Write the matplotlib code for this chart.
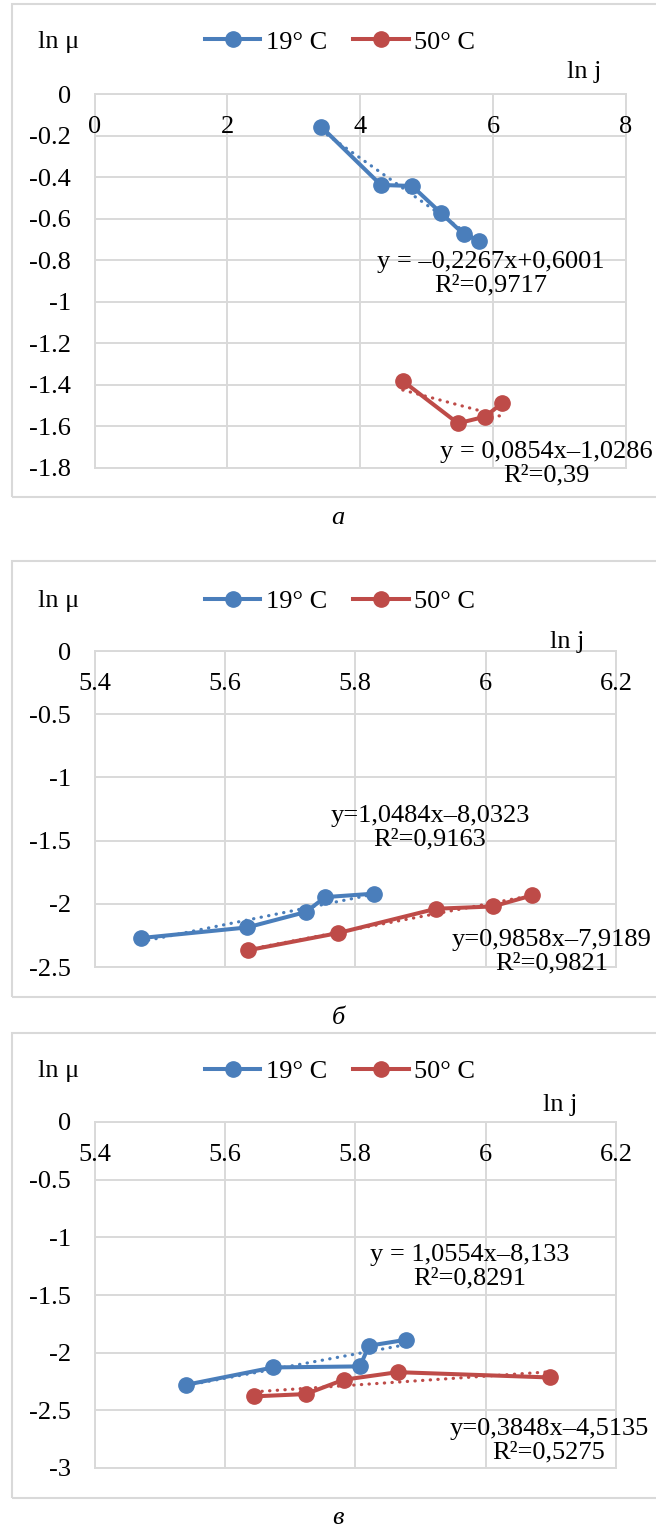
import matplotlib.pyplot as plt
import numpy as np
from matplotlib.patches import Rectangle

plt.rcParams['font.family'] = ['Liberation Serif', 'DejaVu Serif']

# data (ln j, ln mu)
a_blue_x = [3.41, 4.31, 4.78, 5.21, 5.56, 5.79]
a_blue_y = [-0.156, -0.437, -0.442, -0.571, -0.675, -0.706]
a_red_x = [4.64, 5.47, 5.88, 6.14]
a_red_y = [-1.382, -1.586, -1.554, -1.487]

b_blue_x = [5.471, 5.634, 5.724, 5.754, 5.828]
b_blue_y = [-2.271, -2.187, -2.065, -1.947, -1.920]
b_red_x = [5.635, 5.774, 5.924, 6.011, 6.071]
b_red_y = [-2.368, -2.231, -2.039, -2.021, -1.934]

c_blue_x = [5.541, 5.674, 5.807, 5.821, 5.878]
c_blue_y = [-2.278, -2.128, -2.119, -1.940, -1.888]
c_red_x = [5.645, 5.724, 5.782, 5.865, 6.098]
c_red_y = [-2.379, -2.359, -2.235, -2.169, -2.215]

series_names = ['19° C', '50° C']

a_xticks = [0, 2, 4, 6, 8]
a_xlabels = ['0', '2', '4', '6', '8']
a_yticks = [0, -0.2, -0.4, -0.6, -0.8, -1, -1.2, -1.4, -1.6, -1.8]
a_ylabels = ['0', '-0.2', '-0.4', '-0.6', '-0.8', '-1', '-1.2', '-1.4', '-1.6', '-1.8']

bc_xticks = [5.4, 5.6, 5.8, 6.0, 6.2]
bc_xlabels = ['5.4', '5.6', '5.8', '6', '6.2']
b_yticks = [0, -0.5, -1, -1.5, -2, -2.5]
b_ylabels = ['0', '-0.5', '-1', '-1.5', '-2', '-2.5']
c_yticks = [0, -0.5, -1, -1.5, -2, -2.5, -3]
c_ylabels = ['0', '-0.5', '-1', '-1.5', '-2', '-2.5', '-3']

a_fits = ['y = \u20130,2267x+0,6001\nR\u00b2=0,9717', 'y = 0,0854x\u20131,0286\nR\u00b2=0,39']
b_fits = ['y=1,0484x\u20138,0323\nR\u00b2=0,9163', 'y=0,9858x\u20137,9189\nR\u00b2=0,9821']
c_fits = ['y = 1,0554x\u20138,133\nR\u00b2=0,8291', 'y=0,3848x\u20134,5135\nR\u00b2=0,5275']

captions = ['а', 'б', 'в']

W, H = 656, 1526
fig = plt.figure(figsize=(W / 100, H / 100), dpi=100)

BLUE = '#4A7EBB'
RED = '#BE4B48'
GRID = '#D9D9D9'
FS = 19


def fx(x):
    return x / W


def fy(y):
    return 1 - y / H


# layout in pixels: box top/bottom, axes top/bottom/right, label positions
panels = [
    dict(box=(4, 497), ax=(94.3, 467.7, 626), xlim=(0, 8), ylim=(-1.8, 0),
         xt=a_xticks, xl=a_xlabels, yt=a_yticks, yl=a_ylabels,
         blue=(a_blue_x, a_blue_y), red=(a_red_x, a_red_y), fits=a_fits,
         head=42, lnj=(567, 72), fitpos=[(491, 274), (546, 464)], cap=518),
    dict(box=(561, 997), ax=(651, 967, 616), xlim=(5.4, 6.2), ylim=(-2.5, 0),
         xt=bc_xticks, xl=bc_xlabels, yt=b_yticks, yl=b_ylabels,
         blue=(b_blue_x, b_blue_y), red=(b_red_x, b_red_y), fits=b_fits,
         head=601, lnj=(550, 642), fitpos=[(430, 828), (552, 952)], cap=1018),
    dict(box=(1033, 1498), ax=(1122, 1468, 616), xlim=(5.4, 6.2), ylim=(-3, 0),
         xt=bc_xticks, xl=bc_xlabels, yt=c_yticks, yl=c_ylabels,
         blue=(c_blue_x, c_blue_y), red=(c_red_x, c_red_y), fits=c_fits,
         head=1071, lnj=(543, 1105), fitpos=[(470, 1267), (549, 1441)], cap=1518),
]

for p, cap in zip(panels, captions):
    top, bot = p['box']
    fig.patches.append(Rectangle((fx(11.7), fy(bot)), fx(700), (bot - top) / H,
                                 transform=fig.transFigure, fill=False,
                                 ec=GRID, lw=1.5))

    at, ab, ar = p['ax']
    left = 94.6
    ax = fig.add_axes([fx(left), fy(ab), fx(ar - left), (ab - at) / H])
    ax.set_xlim(*p['xlim'])
    ax.set_ylim(*p['ylim'])
    ax.set_xticks(p['xt'])
    ax.set_yticks(p['yt'])
    ax.set_yticklabels(p['yl'], fontsize=FS)
    ax.tick_params(length=0, pad=17, labelbottom=False)
    ax.grid(color=GRID, lw=1.4)
    ax.set_axisbelow(True)
    for s in ax.spines.values():
        s.set_color(GRID)
        s.set_linewidth(1.4)

    # x tick labels sit just under the top (y = 0) axis line
    for v, lab in zip(p['xt'], p['xl']):
        ax.annotate(lab, xy=(v, 1), xycoords=('data', 'axes fraction'),
                    xytext=(0, -23.8), textcoords='offset points',
                    ha='center', va='center', fontsize=FS)

    handles = []
    for key, col in (('blue', BLUE), ('red', RED)):
        x, y = p[key]
        x = np.array(x)
        coef = np.polyfit(x, y, 1)
        xs = np.array([x.min(), x.max()])
        ax.plot(xs, np.polyval(coef, xs), color=col, lw=2.3,
                ls=(0, (0.1, 2.3)), dash_capstyle='round', zorder=2)
        ln, = ax.plot(x, y, '-o', color=col, lw=2.9, ms=11, zorder=3,
                      clip_on=False)
        handles.append(ln)

    ax.legend(handles, series_names, loc='center',
              bbox_to_anchor=(fx(340), fy(p['head'])),
              bbox_transform=fig.transFigure, ncol=2, frameon=False,
              fontsize=FS, numpoints=1, handlelength=2.1, handletextpad=0.2,
              columnspacing=1.0, borderpad=0, borderaxespad=0)

    fig.text(fx(38), fy(p['head']), 'ln μ', fontsize=FS, ha='left', va='center')
    fig.text(fx(p['lnj'][0]), fy(p['lnj'][1]), 'ln j', fontsize=FS,
             ha='left', va='center')

    for txt, (tx, ty) in zip(p['fits'], p['fitpos']):
        fig.text(fx(tx), fy(ty), txt, fontsize=FS, ha='center', va='center',
                 multialignment='center', linespacing=1.1)

    fig.text(fx(338), fy(p['cap']), cap, fontsize=FS, style='italic',
             ha='center', va='center')

fig.savefig('out.png', dpi=100)
